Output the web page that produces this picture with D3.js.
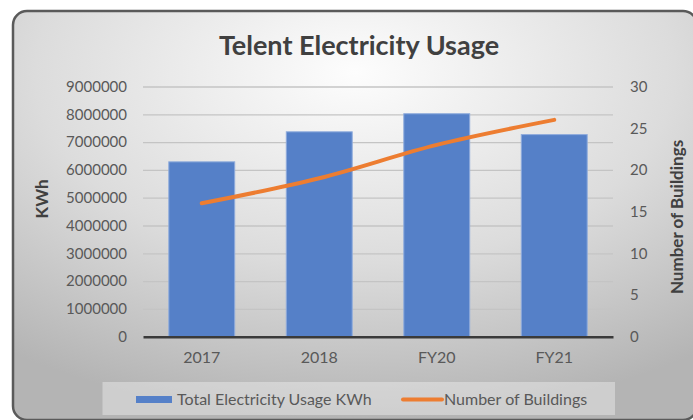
<!DOCTYPE html>
<html>
<head>
<meta charset="utf-8">
<script src="https://cdn.jsdelivr.net/npm/d3@7"></script>
<style>
  body { margin: 0; background: #fff; }
  svg { display: block; font-family: Lato, "Open Sans", sans-serif; }
</style>
</head>
<body>
<svg id="chart" width="693" height="420"></svg>
<script>
var categories = ["2017", "2018", "FY20", "FY21"];
var usageKWh = [6290000, 7370000, 8020000, 7270000];
var buildings = [16, 19, 23, 26];
var leftTicks = [0, 1000000, 2000000, 3000000, 4000000, 5000000, 6000000, 7000000, 8000000, 9000000];
var rightTicks = [0, 5, 10, 15, 20, 25, 30];

var svg = d3.select("#chart");
var textColor = "#595959";

// background panel
var defs = svg.append("defs");
var grad = defs.append("radialGradient")
  .attr("id", "bg")
  .attr("cx", "50%").attr("cy", "15%").attr("r", "85%");
grad.append("stop").attr("offset", "0%").attr("stop-color", "#fdfdfd");
grad.append("stop").attr("offset", "55%").attr("stop-color", "#dcdcdc");
grad.append("stop").attr("offset", "100%").attr("stop-color", "#b4b4b4");

svg.append("rect")
  .attr("x", 13).attr("y", 11)
  .attr("width", 684).attr("height", 409)
  .attr("rx", 14).attr("ry", 14)
  .attr("fill", "url(#bg)")
  .attr("stroke", "#5a5a5a")
  .attr("stroke-width", 2.5);

var plot = { left: 143, right: 613, top: 86.5, bottom: 336.7 };

var x = d3.scaleBand()
  .domain(categories)
  .range([plot.left, plot.right])
  .paddingInner(0.439)
  .paddingOuter(0.2195);

var yLeft = d3.scaleLinear()
  .domain([0, 9000000])
  .range([plot.bottom, plot.top]);

var yRight = d3.scaleLinear()
  .domain([0, 30])
  .range([plot.bottom, plot.top]);

/* gridlines */
svg.append("g")
  .attr("transform", "translate(" + plot.left + ",0)")
  .call(d3.axisLeft(yLeft).tickValues(leftTicks.slice(1)).tickSize(-(plot.right - plot.left)).tickFormat(""))
  .call(function (g) { g.select(".domain").remove(); })
  .selectAll("line")
  .attr("stroke", "#c4c4c4")
  .attr("stroke-width", 1.3);

/* left axis labels */
var leftAxis = svg.append("g")
  .attr("transform", "translate(" + (plot.left - 16) + ",0)")
  .call(d3.axisLeft(yLeft).tickValues(leftTicks).tickSize(0).tickPadding(0).tickFormat(d3.format("d")));
leftAxis.select(".domain").remove();
leftAxis.selectAll("text")
  .attr("fill", textColor)
  .style("font-size", "15px")
  .style("font-family", "Lato, sans-serif");

/* right axis labels */
var rightAxis = svg.append("g")
  .attr("transform", "translate(" + (plot.right + 17) + ",0)")
  .call(d3.axisRight(yRight).tickValues(rightTicks).tickSize(0).tickPadding(0));
rightAxis.select(".domain").remove();
rightAxis.selectAll("text")
  .attr("fill", textColor)
  .style("font-size", "15px")
  .style("font-family", "Lato, sans-serif");

/* bars */
svg.append("g").selectAll("rect")
  .data(usageKWh)
  .enter().append("rect")
  .attr("x", function (d, i) { return x(categories[i]); })
  .attr("y", function (d) { return yLeft(d); })
  .attr("width", x.bandwidth())
  .attr("height", function (d) { return plot.bottom - yLeft(d); })
  .attr("fill", "#5580c8")
  .attr("stroke", "#8fabdc")
  .attr("stroke-width", 1);

/* category axis */
var xAxis = svg.append("g")
  .attr("transform", "translate(0," + plot.bottom + ")")
  .call(d3.axisBottom(x).tickSize(0).tickPadding(15));
xAxis.select(".domain")
  .attr("stroke", "#3a3a3a")
  .attr("stroke-width", 2.5);
xAxis.selectAll("text")
  .attr("fill", textColor)
  .style("font-size", "16px")
  .style("font-family", "Lato, sans-serif");

/* line */
var line = d3.line()
  .x(function (d, i) { return x(categories[i]) + x.bandwidth() / 2; })
  .y(function (d) { return yRight(d); })
  .curve(d3.curveCatmullRom.alpha(0.5));

svg.append("path")
  .datum(buildings)
  .attr("d", line)
  .attr("fill", "none")
  .attr("stroke", "#ed7d31")
  .attr("stroke-width", 4)
  .attr("stroke-linecap", "round");

/* title */
svg.append("text")
  .attr("x", 359).attr("y", 55)
  .attr("text-anchor", "middle")
  .attr("fill", "#404040")
  .style("font-size", "27px")
  .style("font-weight", "bold")
  .text("Telent Electricity Usage");

/* axis titles */
svg.append("text")
  .attr("transform", "translate(48,199) rotate(-90)")
  .attr("text-anchor", "middle")
  .attr("fill", "#404040")
  .style("font-size", "17px")
  .style("font-weight", "bold")
  .text("KWh");

svg.append("text")
  .attr("transform", "translate(683,217) rotate(-90)")
  .attr("text-anchor", "middle")
  .attr("fill", "#404040")
  .style("font-size", "17px")
  .style("font-weight", "bold")
  .text("Number of Buildings");

/* legend */
var legend = svg.append("g");
legend.append("rect")
  .attr("x", 102.5).attr("y", 382)
  .attr("width", 512.5).attr("height", 33)
  .attr("fill", "#ffffff")
  .attr("fill-opacity", 0.35);
legend.append("rect")
  .attr("x", 136).attr("y", 396)
  .attr("width", 36).attr("height", 7)
  .attr("fill", "#5580c8");
legend.append("text")
  .attr("x", 177).attr("y", 405)
  .attr("fill", textColor)
  .style("font-size", "16px")
  .text("Total Electricity Usage KWh");
legend.append("line")
  .attr("x1", 403).attr("x2", 442)
  .attr("y1", 399.5).attr("y2", 399.5)
  .attr("stroke", "#ed7d31")
  .attr("stroke-width", 4)
  .attr("stroke-linecap", "round");
legend.append("text")
  .attr("x", 444).attr("y", 405)
  .attr("fill", textColor)
  .style("font-size", "16px")
  .text("Number of Buildings");
</script>
</body>
</html>
